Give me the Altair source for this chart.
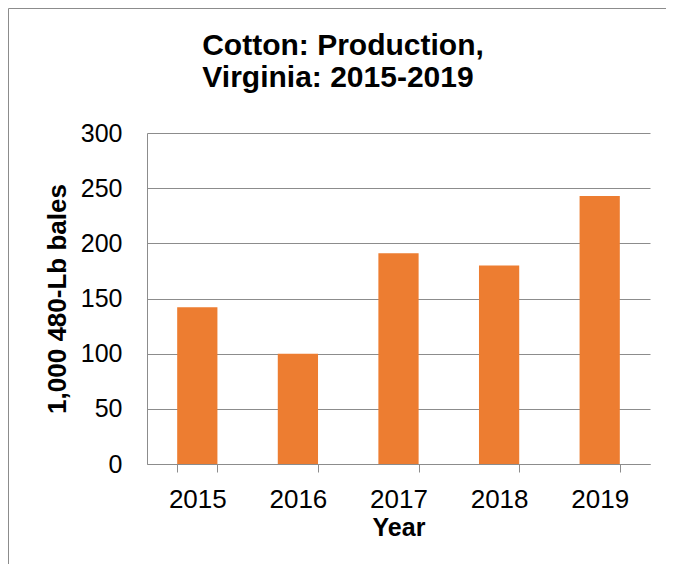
import altair as alt
import pandas as pd

years = ["2015", "2016", "2017", "2018", "2019"]
production = [142, 100, 191, 180, 243]
y_ticks = [0, 50, 100, 150, 200, 250, 300]
title_lines = ["Cotton: Production,", "Virginia: 2015-2019"]

df = pd.DataFrame({"Year": years, "Production": production})

W, H = 503, 331
PL, PT, PR, PB = 139, 125, 16, 100
FONT = "Liberation Sans"
GRAY = "#8c8c8c"

bars = alt.Chart(df).mark_bar(color="#ED7D31").encode(
    x=alt.X(
        "Year:N",
        sort=years,
        scale=alt.Scale(paddingInner=0.6, paddingOuter=0.3),
        axis=alt.Axis(
            title="Year",
            labelAngle=0,
            tickBand="extent",
            ticks=True,
            tickSize=8,
            tickColor=GRAY,
            domainColor=GRAY,
            labelPadding=14,
            labelFont=FONT,
            labelFontSize=26,
            labelColor="#000000",
            titleFont=FONT,
            titleFontSize=25,
            titleFontWeight="bold",
            titleColor="#000000",
            titleBaseline="alphabetic",
            titleY=71,
            grid=False,
        ),
    ),
    y=alt.Y(
        "Production:Q",
        scale=alt.Scale(domain=[0, 300], nice=False),
        axis=alt.Axis(
            values=y_ticks,
            title="1,000 480-Lb bales",
            ticks=False,
            labelPadding=25,
            labelFont=FONT,
            labelFontSize=25,
            labelColor="#000000",
            domainColor=GRAY,
            grid=True,
            gridColor=GRAY,
            titleFont=FONT,
            titleFontSize=26,
            titleFontWeight="bold",
            titleColor="#000000",
            titleBaseline="alphabetic",
            titleX=-82,
        ),
    ),
)

frame_df = pd.DataFrame({"k": [0]})
left_border = alt.Chart(frame_df).mark_rule(color=GRAY, strokeWidth=1).encode(
    x=alt.value(-PL + 0.5), y=alt.value(-PT + 0.5), y2=alt.value(H + PB)
)
top_border = alt.Chart(frame_df).mark_rule(color=GRAY, strokeWidth=1).encode(
    x=alt.value(-PL + 0.5), x2=alt.value(W + PR), y=alt.value(-PT + 0.5)
)

title1 = alt.Chart(pd.DataFrame({"t": [title_lines[0]]})).mark_text(
    font=FONT, fontSize=30, fontWeight="bold", color="#000000",
    align="center", baseline="alphabetic"
).encode(text="t:N", x=alt.value(196), y=alt.value(-78))
title2 = alt.Chart(pd.DataFrame({"t": [title_lines[1]]})).mark_text(
    font=FONT, fontSize=30, fontWeight="bold", color="#000000",
    align="center", baseline="alphabetic"
).encode(text="t:N", x=alt.value(191), y=alt.value(-46))

chart = (
    alt.layer(left_border, top_border, bars, title1, title2)
    .properties(
        width=W,
        height=H,
        autosize=alt.AutoSizeParams(type="none"),
        padding={"left": PL, "top": PT, "right": PR, "bottom": PB},
        background="white",
    )
    .configure_view(stroke=None)
)

chart.save("out.html", embed_options={"renderer": "svg", "actions": False})
